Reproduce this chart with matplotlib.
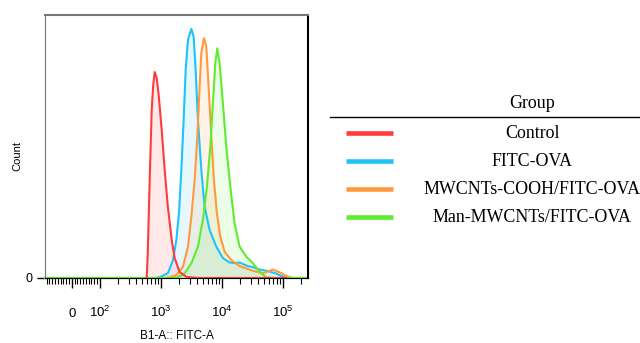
import numpy as np
import matplotlib
matplotlib.use("Agg")
import matplotlib.pyplot as plt
from matplotlib.ticker import FixedLocator

plt.rcParams['font.family'] = ['Liberation Sans', 'DejaVu Sans']
plt.rcParams['mathtext.fontset'] = 'custom'
plt.rcParams['mathtext.rm'] = 'Liberation Sans'
plt.rcParams['mathtext.it'] = 'Liberation Sans'

# groups shown in the legend
groups = ['Control', 'FITC-OVA', 'MWCNTs-COOH/FITC-OVA', 'Man-MWCNTs/FITC-OVA']
colors = ['#ff3b3b', '#1ec3f7', '#ff9a3c', '#5ded2e']

# histogram outlines: FITC-A intensity vs count (% of max)
ctrl_x = [590, 612, 660, 712, 754, 797, 860, 927, 1039, 1163, 1302, 1515, 1696,
          2049, 2669, 4358, 115000]
ctrl_y = [0, 9.2, 39.4, 67.5, 77.5, 82.7, 80.3, 73.5, 59.4, 43.4, 29.3, 15.3, 8.0,
          2.4, 0.4, 0, 0]

ova_x = [-96, 797, 963, 1317, 1591, 1809, 1995, 2184, 2382, 2570, 2803, 3187, 3475,
         3749, 4088, 4647, 5264, 6358, 8186, 10503, 13524, 16334, 19730, 26986,
         32234, 41977, 54053, 65286, 78838, 101137, 115000, 262144]
ova_y = [0, 0, 0.3, 2.0, 7.2, 15.3, 26.1, 43.4, 63.5, 83.5, 95.6, 100, 96.9,
         83.5, 63.5, 43.4, 28.6, 19.3, 12.6, 8.0, 6.2, 6.0, 6.2, 4.8,
         4.4, 3.4, 2.9, 2.4, 1.8, 0.5, 0, 0]

cooh_x = [-96, 1163, 1404, 1809, 2321, 2803, 3187, 3609, 3996, 4358, 4647, 5126,
          5614, 6121, 6779, 7476, 8375, 9522, 11198, 14421, 19730, 32600, 47534,
          56770, 69343, 89284, 115000, 147570, 262144]
cooh_y = [0, 0, 0.3, 1.2, 4.5, 12.6, 24.6, 39.4, 56.7, 76.8, 90.4, 96.3,
          92.9, 76.8, 56.7, 39.4, 26.0, 16.6, 10.6, 7.2, 4.8, 2.9, 1.9,
          2.6, 3.4, 2.3, 0.8, 0, 0]

man_x = [-96, 1404, 1921, 2474, 3187, 4088, 4937, 5741, 6528, 7200, 7882, 8503,
         9274, 10503, 11940, 13887, 16334, 19730, 25408, 32600, 44597, 54053,
         73950, 262144]
man_y = [0, 0, 0.3, 1.9, 5.9, 12.6, 23.3, 36.7, 52.7, 70.2, 86.2, 92.2,
         86.2, 70.2, 52.7, 36.7, 22.0, 12.6, 8.6, 5.9, 1.9, 0.3,
         0, 0]

major_ticks = [0, 1e2, 1e3, 1e4, 1e5]
major_labels = ['0', r'$10^2$', r'$10^3$', r'$10^4$', r'$10^5$']

fig = plt.figure(figsize=(6.4, 3.43), dpi=100)
ax = fig.add_axes([45 / 640, 65 / 343, 263 / 640, 263 / 343])
ax.set_xscale('symlog', linthresh=100, linscale=0.413)

series = [(ova_x, ova_y, colors[1]), (cooh_x, cooh_y, colors[2]),
          (man_x, man_y, colors[3]), (ctrl_x, ctrl_y, colors[0])]
for xs, ys, c in series:
    ax.fill_between(xs, ys, 0, color=c, alpha=0.11, lw=0)
    ax.plot(xs, ys, color=c, lw=1.5, clip_on=False, solid_joinstyle='round')

ax.set_xlim(-96, 262144)
ax.set_ylim(0, 105.6)

# ticks
ax.xaxis.set_major_locator(FixedLocator(major_ticks))
ax.set_xticklabels(major_labels)
minor = [v for v in range(-90, 100, 10) if v != 0]
for e in range(2, 6):
    for k in range(2, 10):
        if k * 10 ** e < 262144:
            minor.append(k * 10 ** e)
ax.xaxis.set_minor_locator(FixedLocator(minor))
ax.tick_params(axis='x', which='major', length=7, width=1, pad=21, labelsize=9.5)
ax.tick_params(axis='x', which='minor', length=4, width=0.8)
for lab in ax.get_xticklabels():
    lab.set_va('baseline')
ax.set_yticks([0])
ax.set_yticklabels(['0'])
ax.tick_params(axis='y', length=6, width=1, pad=3, labelsize=9)

for side in ['left', 'top']:
    ax.spines[side].set_color('#777777')
ax.spines['top'].set_linewidth(1.5)
ax.spines['right'].set_color('black')
ax.spines['right'].set_linewidth(1.5)
ax.spines['bottom'].set_color('black')

fig.text(17 / 640, 1 - 156 / 343, 'Count', rotation=90, ha='center', va='center', fontsize=8)
fig.text(176.5 / 640, 1 - 336 / 343, 'B1-A:: FITC-A', ha='center', va='center', fontsize=8.5)

# legend panel
lg = fig.add_axes([320 / 640, 1 - 240 / 343, 320 / 640, 160 / 343])
lg.set_xlim(320, 640)
lg.set_ylim(240, 80)
lg.axis('off')
lg.plot([330, 640], [117, 117], color='black', lw=1, clip_on=False)
lg.text(532, 103, 'Group', ha='center', va='center', fontsize=12.9, family='Liberation Serif')
row_y = [133, 161, 189, 217]
for name, c, yy in zip(groups, colors, row_y):
    lg.plot([346, 393], [yy, yy], color=c, lw=3.3, solid_capstyle='butt')
    lg.text(532, yy, name, ha='center', va='center', fontsize=12.9, family='Liberation Serif')

fig.savefig('out.png', dpi=100)
